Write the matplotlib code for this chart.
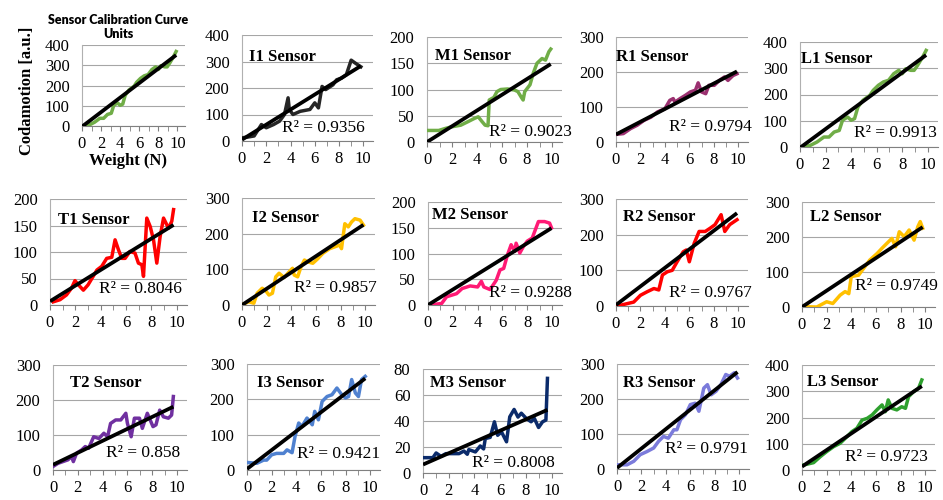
import numpy as np
import matplotlib.pyplot as plt
from matplotlib.ticker import MultipleLocator

plt.rcParams['font.family'] = ['Liberation Serif', 'DejaVu Serif']

# ---- data ----
# L1 sensor (also used for the "Units" panel)
l1_x = [0.27, 0.8, 1.33, 1.87, 2.27, 2.67, 3.07, 3.33, 3.73, 4.0, 4.27, 4.53, 4.93, 5.47,
        5.73, 6.13, 6.53, 6.93, 7.33, 7.73, 8.0, 8.27, 8.67, 8.93, 9.2, 9.6, 9.87]
l1_y = [0, 6, 19, 38, 38, 57, 63, 102, 114, 102, 108, 152, 178, 197,
        216, 235, 248, 254, 279, 292, 279, 298, 292, 292, 311, 343, 368]

i1_x = [0, 0.5, 1.0, 1.6, 2.0, 2.6, 3.1, 3.5, 3.8, 3.9, 4.2, 4.8, 5.6, 6.0, 6.3, 6.6,
        6.9, 7.1, 7.5, 7.8, 8.2, 8.6, 9.0, 9.4, 9.8]
i1_y = [12, 15, 19, 62, 50, 62, 75, 100, 163, 119, 100, 112, 119, 144, 125, 206,
        194, 200, 212, 231, 237, 250, 305, 292, 280]

m1_x = [0.11, 0.94, 1.49, 2.0, 2.7, 3.3, 3.8, 4.1, 4.4, 4.65, 4.88, 4.98, 5.35, 5.6, 5.9,
        6.45, 7.0, 7.27, 7.55, 7.69, 7.82, 8.24, 8.5, 8.8, 9.2, 9.48, 9.75, 9.9]
m1_y = [22, 22, 26, 29, 32, 39, 45, 48, 39, 32, 31, 80, 85, 96, 100,
        101, 99, 96, 85, 80, 96, 109, 131, 150, 159, 156, 172, 177]

r1_x = [0.06, 0.6, 1.18, 1.74, 2.3, 2.86, 3.4, 4.0, 4.4, 4.68, 4.82, 5.24, 5.66, 6.08,
        6.5, 6.72, 7.0, 7.34, 7.6, 8.04, 8.46, 8.88, 9.16, 9.58, 9.9]
r1_y = [22, 24, 38, 48, 62, 71, 86, 95, 119, 124, 114, 124, 133, 143,
        148, 169, 143, 138, 162, 162, 176, 186, 176, 190, 195]

t1_x = [0.26, 0.79, 1.3, 1.7, 1.97, 2.24, 2.63, 3.0, 3.4, 3.7, 4.08, 4.47, 4.87, 5.13,
        5.4, 5.66, 5.92, 6.3, 6.7, 6.97, 7.24, 7.37, 7.63, 7.9, 8.16, 8.42, 8.68, 8.95,
        9.34, 9.6, 9.74]
t1_y = [6, 10, 19, 32, 46, 38, 28, 38, 54, 66, 73, 88, 90, 123,
        104, 88, 88, 101, 98, 79, 76, 54, 164, 148, 123, 79, 129, 164,
        145, 158, 180]

i2_x = [0.14, 0.55, 0.96, 1.23, 1.64, 1.92, 2.19, 2.47, 2.74, 3.01, 3.42, 3.83, 4.1,
        4.24, 4.52, 4.79, 5.07, 5.34, 5.75, 6.16, 6.57, 7.12, 7.53, 7.94, 8.08, 8.35,
        8.63, 8.9, 9.17, 9.59, 9.86]
i2_y = [3, 9, 5, 33, 47, 40, 28, 33, 79, 89, 77, 93, 103,
        84, 79, 107, 126, 121, 117, 130, 145, 158, 163, 168, 158, 228,
        219, 233, 242, 238, 224]

m2_x = [0.14, 1.1, 1.5, 2.3, 2.75, 3.4, 4.0, 4.3, 4.5, 5.0, 5.5, 5.8, 6.1, 6.4, 6.7,
        7.0, 7.1, 7.4, 7.7, 8.0, 8.4, 8.9, 9.4, 9.8, 9.95]
m2_y = [0, 3, 16, 22, 32, 37, 35, 46, 35, 30, 48, 68, 71, 97, 117,
        104, 120, 101, 114, 124, 130, 162, 162, 159, 150]

r2_x = [0.1, 1.45, 2.0, 2.55, 3.1, 3.5, 3.8, 4.2, 4.6, 5.0, 5.5, 5.75, 6.0, 6.4, 6.8,
        7.3, 7.7, 8.1, 8.6, 8.9, 9.3, 9.9]
r2_y = [0, 11, 30, 40, 49, 45, 87, 96, 100, 124, 152, 157, 124, 176, 209,
        209, 218, 228, 256, 209, 228, 242]

l2_x = [0.1, 1.2, 2.0, 2.5, 3.1, 3.5, 3.8, 4.0, 4.6, 5.1, 5.5, 6.1, 6.5, 6.9, 7.3, 7.6,
        7.9, 8.3, 8.7, 9.1, 9.4, 9.6, 9.8]
l2_y = [1, 0, 15, 10, 34, 44, 38, 87, 91, 115, 134, 153, 168, 182, 196, 172,
        215, 201, 220, 191, 229, 244, 225]

t2_x = [0.0, 0.4, 0.8, 1.2, 1.5, 1.64, 1.9, 2.3, 2.6, 2.87, 3.28, 3.7, 4.1, 4.4, 4.64,
        5.05, 5.46, 5.87, 6.0, 6.3, 6.56, 6.97, 7.2, 7.6, 8.06, 8.3, 8.6, 8.9, 9.3,
        9.56, 9.7]
t2_y = [10, 19, 24, 29, 38, 24, 48, 57, 67, 62, 95, 90, 105, 95, 133,
        143, 143, 162, 133, 95, 148, 148, 119, 162, 124, 129, 171, 152, 148,
        157, 210]

i3_x = [0.14, 0.8, 1.35, 1.6, 2.0, 2.4, 2.98, 3.25, 3.66, 3.9, 4.2, 4.46, 4.87, 5.3,
        5.5, 5.8, 6.1, 6.5, 6.9, 7.3, 7.7, 8.0, 8.25, 8.5, 8.8, 9.05, 9.3, 9.6]
i3_y = [21, 19, 28, 28, 43, 47, 47, 57, 49, 95, 133, 123, 147, 128,
        166, 142, 194, 208, 213, 232, 213, 204, 208, 256, 218, 208, 256, 265]

m3_x = [0.0, 0.77, 1.02, 1.4, 1.78, 2.8, 3.18, 3.44, 3.56, 4.07, 4.45, 4.71, 4.84, 5.22,
        5.55, 5.8, 6.1, 6.49, 6.74, 7.08, 7.38, 7.64, 8.02, 8.4, 8.65, 8.98, 9.29,
        9.55, 9.67]
m3_y = [11.8, 11.8, 15.4, 12.8, 14.9, 14.9, 16.9, 14.4, 18, 16.2, 20.8, 18.5, 26.5, 27.4,
        39.4, 29, 31.6, 24, 43.2, 48.9, 43, 46, 42, 39.4, 42, 35, 39.4,
        40.7, 72.8]

r3_x = [0.13, 0.82, 1.37, 1.9, 2.46, 3.0, 3.4, 3.8, 4.2, 4.65, 4.9, 5.2, 5.6, 6.0, 6.4,
        6.7, 7.1, 7.4, 7.7, 8.1, 8.5, 8.9, 9.2, 9.6, 9.86]
r3_y = [12, 12, 22, 41, 50, 60, 79, 93, 88, 112, 112, 141, 155, 184, 188,
        165, 231, 241, 212, 222, 241, 270, 265, 275, 260]

l3_x = [0.13, 0.94, 1.49, 2.0, 2.57, 3.1, 3.65, 4.05, 4.46, 4.87, 5.3, 5.7, 6.08, 6.5,
        6.76, 7.0, 7.3, 7.7, 8.1, 8.4, 8.65, 9.05, 9.46, 9.73]
l3_y = [19, 28, 51, 70, 89, 102, 127, 146, 159, 190, 197, 210, 229, 248,
        222, 267, 235, 229, 241, 235, 279, 298, 311, 343]

names = ["Units", "I1 Sensor", "M1 Sensor", "R1 Sensor", "L1 Sensor",
         "T1 Sensor", "I2 Sensor", "M2 Sensor", "R2 Sensor", "L2 Sensor",
         "T2 Sensor", "I3 Sensor", "M3 Sensor", "R3 Sensor", "L3 Sensor"]
xs = [l1_x, i1_x, m1_x, r1_x, l1_x, t1_x, i2_x, m2_x, r2_x, l2_x, t2_x, i3_x, m3_x, r3_x, l3_x]
ys = [l1_y, i1_y, m1_y, r1_y, l1_y, t1_y, i2_y, m2_y, r2_y, l2_y, t2_y, i3_y, m3_y, r3_y, l3_y]
# linear trendlines (intercept, slope)
fit_a = [-3, 5, 0, 21.5, -3, 7, 0, 0, 3, 0, 15, 3, 6.5, 3, 13]
fit_b = [35.8, 28.4, 15.0, 18.2, 35.8, 14.8, 22.8, 15.0, 26.0, 23.3, 17.1, 26.7, 4.35, 27.8, 31.5]
r2_labels = [None, "0.9356", "0.9023", "0.9794", "0.9913",
             "0.8046", "0.9857", "0.9288", "0.9767", "0.9749",
             "0.858", "0.9421", "0.8008", "0.9791", "0.9723"]
y_max = [400, 400, 200, 300, 400, 200, 300, 200, 300, 300, 300, 300, 80, 300, 400]
y_step = [100, 100, 50, 100, 100, 50, 100, 50, 100, 100, 100, 100, 20, 100, 100]

# ---- styling / layout (pixels: left, right, top, bottom) ----
colors = ["#70AD47", "#262626", "#70AD47", "#9B3070", "#70AD47",
          "#FF0000", "#FFC000", "#FF1A75", "#FF0000", "#FFC000",
          "#7030A0", "#4F81D0", "#0B2B6B", "#7B7BDB", "#2EA02E"]
boxes = [(82, 185, 45, 126), (242, 373, 35, 141), (427, 562, 37, 142), (616, 748, 37, 142),
         (800, 938, 42, 147),
         (50, 187, 199, 305), (242, 375, 198, 305), (428, 562, 202, 305), (616, 748, 199, 306),
         (802, 935, 202, 307),
         (53, 187, 365, 470), (247, 380, 364, 470), (423, 562, 369, 473), (617, 749, 364, 469),
         (802, 935, 365, 470)]
title_pos = [None, (0.05, 0.79), (0.06, 0.82), (0.0, 0.81), (0.01, 0.84),
             (0.06, 0.80), (0.075, 0.81), (0.03, 0.87), (0.05, 0.83), (0.06, 0.86),
             (0.13, 0.83), (0.075, 0.82), (0.05, 0.87), (0.045, 0.82), (0.04, 0.84)]
r2_pos = [None, (0.94, 0.12), (1.07, 0.095), (1.03, 0.14), (0.99, 0.13),
          (0.96, 0.15), (1.01, 0.16), (1.07, 0.12), (1.03, 0.12), (1.02, 0.20),
          (0.95, 0.16), (1.0, 0.15), (0.95, 0.10), (0.99, 0.19), (0.95, 0.12)]

W, H = 943, 500
fig = plt.figure(figsize=(W / 100, H / 100), dpi=100)

for k in range(15):
    l, r, t, b = boxes[k]
    ax = fig.add_axes([l / W, 1 - b / H, (r - l) / W, (b - t) / H])
    x = np.array(xs[k])
    y = np.array(ys[k])
    ax.plot(x, y, color=colors[k], lw=2.5, solid_joinstyle='round', zorder=3)
    fx = np.array([0, x.max()])
    ax.plot(fx, fit_a[k] + fit_b[k] * fx, color='black', lw=2.7, zorder=4,
            solid_capstyle='butt')

    ax.set_xlim(0, 10.8)
    ax.set_ylim(0, y_max[k])
    ax.xaxis.set_major_locator(MultipleLocator(2))
    ax.xaxis.set_minor_locator(MultipleLocator(1))
    ax.yaxis.set_major_locator(MultipleLocator(y_step[k]))
    ax.grid(axis='y', color='#a6a6a6', lw=0.8, zorder=0)
    ax.set_axisbelow(True)
    for s in ['top', 'right']:
        ax.spines[s].set_visible(False)
    ax.spines['left'].set_color('#b0b0b0')
    ax.spines['bottom'].set_color('#808080')
    ax.tick_params(axis='x', which='both', direction='out', length=3.5, color='#808080',
                   labelsize=12, pad=4)
    ax.tick_params(axis='y', length=0, labelsize=12, pad=9)

    if title_pos[k] is not None:
        ax.text(title_pos[k][0], title_pos[k][1], names[k], transform=ax.transAxes,
                fontsize=12, fontweight='bold', ha='left', va='center', zorder=5)
    if r2_labels[k] is not None:
        ax.text(r2_pos[k][0], r2_pos[k][1], "R² = " + r2_labels[k], transform=ax.transAxes,
                fontsize=12.5, ha='right', va='center', zorder=5)

fig.text(118 / W, 1 - 27 / H, "Sensor Calibration Curve\nUnits", family='Lato',
         fontweight='heavy', fontsize=9, ha='center', va='center', linespacing=1.25)
fig.text(27 / W, 1 - 91 / H, "Codamotion [a.u.]", fontsize=12, fontweight='bold',
         rotation=90, ha='center', va='center')
fig.text(128 / W, 1 - 161 / H, "Weight (N)", fontsize=12, fontweight='bold',
         ha='center', va='center')

fig.savefig("out.png", dpi=100, facecolor='white')
